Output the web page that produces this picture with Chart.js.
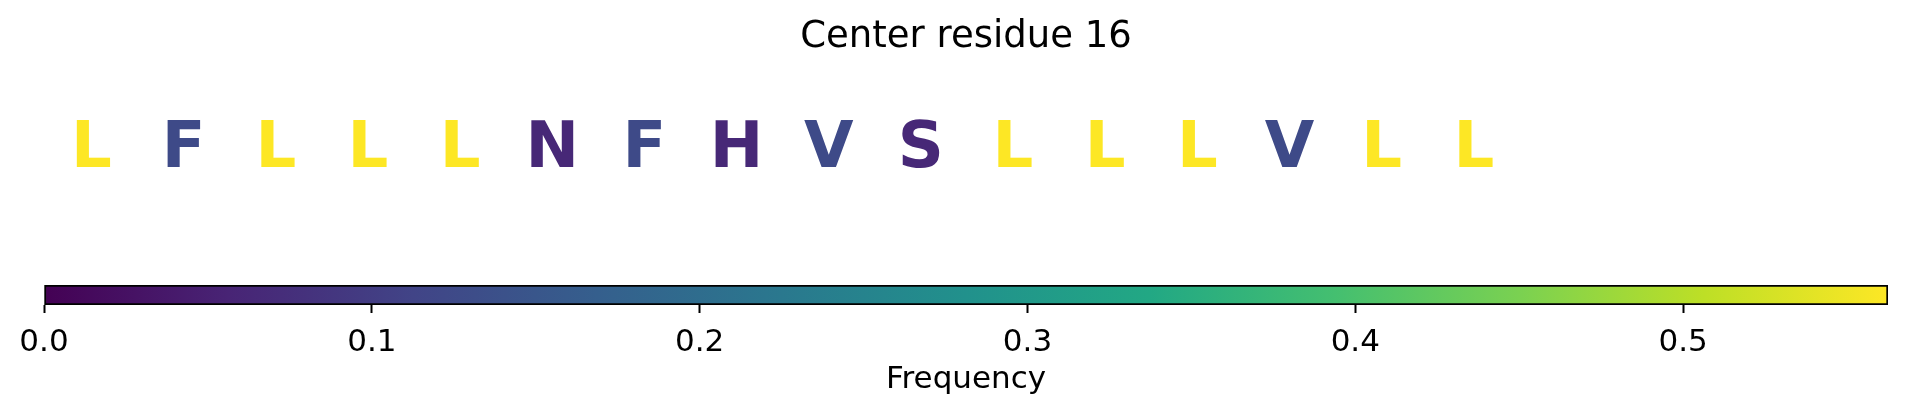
<!DOCTYPE html>
<html>
<head>
<meta charset="utf-8">
<script src="https://cdn.jsdelivr.net/npm/chart.js@4/dist/chart.umd.min.js"></script>
<style>
  html, body { margin: 0; padding: 0; background: #fff; }
  canvas { display: block; }
</style>
</head>
<body>
<canvas id="logo" width="1907" height="270"></canvas>
<canvas id="cbar" width="1907" height="146"></canvas>
<script>
// residues around center residue 16 and how often each one occurs
const residues = ['L', 'F', 'L', 'L', 'L', 'N', 'F', 'H', 'V', 'S', 'L', 'L', 'L', 'V', 'L', 'L'];
const frequencies = [0.5625, 0.125, 0.5625, 0.5625, 0.5625, 0.0625, 0.125, 0.0625, 0.125, 0.0625, 0.5625, 0.5625, 0.5625, 0.125, 0.5625, 0.5625];
const freqMax = 0.5625;
const tickValues = [0, 0.1, 0.2, 0.3, 0.4, 0.5];

// viridis sampled at 0, 0.1 ... 1
const viridisStops = ['#440154', '#482475', '#414487', '#355f8d', '#2a788e', '#21918c',
                      '#22a884', '#44bf70', '#7ad151', '#bddf26', '#fde725'];

function hexToRgb(h) {
  return [parseInt(h.slice(1, 3), 16), parseInt(h.slice(3, 5), 16), parseInt(h.slice(5, 7), 16)];
}

function viridis(t) {
  t = Math.max(0, Math.min(1, t));
  const p = t * (viridisStops.length - 1);
  const i = Math.min(Math.floor(p), viridisStops.length - 2);
  const f = p - i;
  const a = hexToRgb(viridisStops[i]), b = hexToRgb(viridisStops[i + 1]);
  const c = a.map((v, k) => Math.round(v + (b[k] - v) * f));
  return `rgb(${c[0]},${c[1]},${c[2]})`;
}

const FONT = "'DejaVu Sans', 'Liberation Sans', sans-serif";

const letterPlugin = {
  id: 'letters',
  afterDatasetsDraw(chart) {
    const meta = chart.getDatasetMeta(0);
    const ctx = chart.ctx;
    ctx.save();
    ctx.font = 'bold 64px ' + FONT;
    ctx.textAlign = 'center';
    ctx.textBaseline = 'alphabetic';
    meta.data.forEach((pt, i) => {
      ctx.fillStyle = viridis(frequencies[i] / freqMax);
      ctx.fillText(residues[i], pt.x, pt.y + 23.3);
    });
    ctx.restore();
  }
};

new Chart(document.getElementById('logo'), {
  type: 'scatter',
  data: {
    datasets: [{
      data: residues.map((r, i) => ({ x: i, y: 0.5 })),
      pointRadius: 0,
      pointHoverRadius: 0
    }]
  },
  options: {
    responsive: false,
    animation: false,
    devicePixelRatio: 1,
    layout: { padding: { left: 44, right: 19, top: 0, bottom: 42 } },
    plugins: {
      legend: { display: false },
      tooltip: { enabled: false },
      title: {
        display: true,
        text: 'Center residue 16',
        color: '#000',
        font: { family: FONT, size: 37, weight: 'normal' },
        padding: { top: 15, bottom: 0 }
      }
    },
    scales: {
      x: { type: 'linear', min: -0.515, max: 19.495, display: false },
      y: { type: 'linear', min: 0, max: 1, display: false }
    }
  },
  plugins: [letterPlugin]
});

new Chart(document.getElementById('cbar'), {
  type: 'bar',
  data: {
    labels: [''],
    datasets: [{
      data: [[0, freqMax]],
      barPercentage: 1,
      categoryPercentage: 1,
      borderWidth: 2,
      borderColor: '#000',
      borderSkipped: false,
      backgroundColor(c) {
        const chart = c.chart;
        if (!chart.chartArea) return viridisStops[0];
        const xs = chart.scales.x;
        const g = chart.ctx.createLinearGradient(xs.getPixelForValue(0), 0, xs.getPixelForValue(freqMax), 0);
        viridisStops.forEach((col, k) => g.addColorStop(k / (viridisStops.length - 1), col));
        return g;
      }
    }]
  },
  options: {
    indexAxis: 'y',
    responsive: false,
    animation: false,
    devicePixelRatio: 1,
    layout: { padding: { left: 44, right: 19, top: 15, bottom: 17 } },
    plugins: {
      legend: { display: false },
      tooltip: { enabled: false }
    },
    scales: {
      y: { display: false },
      x: {
        type: 'linear',
        position: 'bottom',
        min: 0,
        max: freqMax,
        afterBuildTicks(axis) {
          axis.ticks = tickValues.map(v => ({ value: v }));
        },
        afterFit(axis) {
          axis.height = 94;
        },
        border: { display: false },
        grid: {
          display: true,
          drawOnChartArea: false,
          drawTicks: true,
          tickLength: 8,
          tickWidth: 2,
          tickColor: '#000'
        },
        ticks: {
          color: '#000',
          padding: 11,
          maxRotation: 0,
          autoSkip: false,
          font: { family: FONT, size: 31 },
          callback: v => Number(v).toFixed(1)
        },
        title: {
          display: true,
          text: 'Frequency',
          color: '#000',
          font: { family: FONT, size: 31 },
          padding: { top: 3, bottom: 0 }
        }
      }
    }
  }
});
</script>
</body>
</html>
